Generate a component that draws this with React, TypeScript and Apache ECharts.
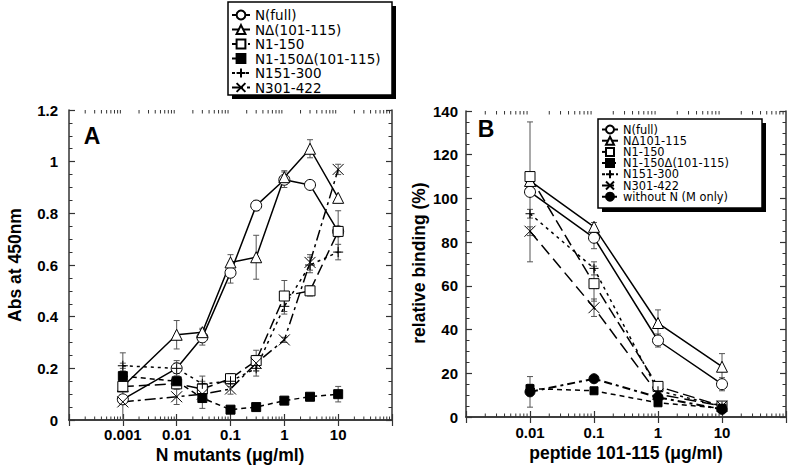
import React, { useEffect, useRef } from "react";
import * as echarts from "echarts";

// ---------- Panel A data ----------
const xA = [0.001, 0.01, 0.03, 0.1, 0.3, 1, 3, 10];
const aNames = ["N(full)", "NΔ(101-115)", "N1-150", "N1-150Δ(101-115)", "N151-300", "N301-422"];
const aFull = [0.08, 0.2, 0.32, 0.57, 0.83, 0.93, 0.91, 0.73];
const aFullErr = [0.015, 0.02, 0.03, 0.04, 0.02, 0.03, 0, 0.02];
const aDel = [0.13, 0.33, 0.34, 0.61, 0.63, 0.94, 1.05, 0.86];
const aDelErr = [0.13, 0.055, 0.015, 0.03, 0.085, 0.025, 0.035, 0];
const a150 = [0.13, 0.14, 0.12, 0.16, 0.23, 0.48, 0.5, 0.73];
const a150Err = [0.02, 0.02, 0.03, 0.02, 0.04, 0.06, 0.02, 0.08];
const a150Del = [0.17, 0.15, 0.085, 0.04, 0.05, 0.075, 0.09, 0.1];
const a150DelErr = [0.02, 0.02, 0.04, 0, 0, 0.01, 0.01, 0.03];
const a151 = [0.21, 0.2, 0.14, 0.15, 0.2, 0.44, 0.6, 0.65];
const a151Err = [0.01, 0.03, 0.03, 0.02, 0.03, 0.03, 0.03, 0.03];
const a301 = [0.07, 0.09, 0.1, 0.12, 0.22, 0.31, 0.61, 0.97];
const a301Err = [0.01, 0.03, 0.02, 0.02, 0.03, 0.01, 0.03, 0.02];

// ---------- Panel B data ----------
const xB = [0.01, 0.1, 1, 10];
const bNames = ["N(full)", "NΔ101-115", "N1-150", "N1-150Δ(101-115)", "N151-300", "N301-422", "without N (M only)"];
const bFull = [103, 82, 35, 15];
const bFullErr = [32, 5, 3, 3];
const bDel = [108, 87, 43, 23];
const bDelErr = [2, 2, 6, 6];
const b150 = [110, 61, 14, 5];
const b150Err = [2, 8, 2, 1];
const b150Del = [13, 12, 6.5, 4];
const b150DelErr = [2, 1, 1, 1];
const b151 = [93, 68, 12, 5];
const b151Err = [2, 3, 1, 1];
const b301 = [85, 50, 10.5, 5];
const b301Err = [2, 4, 1, 1];
const bNoN = [11.5, 17.5, 9, 3.5];
const bNoNErr = [7, 1, 1, 1];

// ---------- tick labels ----------
const xTickLabelsA: Record<number, string> = { [-3]: "0.001", [-2]: "0.01", [-1]: "0.1", 0: "1", 1: "10" };
const xTickLabelsB: Record<number, string> = { [-2]: "0.01", [-1]: "0.1", 0: "1", 1: "10" };
const decadesA = [0.0001, 0.001, 0.01, 0.1, 1, 10];
const decadesB = [0.001, 0.01, 0.1, 1, 10];
const minorMult = [2, 3, 4, 5, 6, 7, 8, 9];

const FONT = '"Liberation Sans", Arial, Helvetica, sans-serif';
const LFONT = '"DejaVu Sans", "Liberation Sans", Arial, sans-serif';
const AXC = "#333";

const PLUS = "path://M5,0L5,10M0,5L10,5";
const CROSS = "path://M0,0L10,10M10,0L0,10";

function pairs(xs: number[], ys: number[]) {
  return xs.map((x, i) => [x, ys[i]]);
}

function lineSeries(
  name: string,
  xs: number[],
  ys: number[],
  symbol: string,
  size: number,
  dash: any,
  axis: number,
  filled: boolean,
  width = 1.5
) {
  return {
    name,
    type: "line",
    xAxisIndex: axis,
    yAxisIndex: axis,
    data: pairs(xs, ys),
    symbol,
    symbolSize: size,
    showAllSymbol: true,
    z: 3,
    lineStyle: { color: "#000", width, type: dash },
    itemStyle: { color: filled ? "#000" : "#fff", borderColor: "#000", borderWidth: 1 },
    emphasis: { disabled: true },
  };
}

function errData(xs: number[], groups: [number[], number[]][]) {
  const out: number[][] = [];
  groups.forEach(([ys, es]) => {
    xs.forEach((x, i) => {
      if (es[i] > 0) out.push([x, ys[i], es[i]]);
    });
  });
  return out;
}

function errSeries(axis: number, data: number[][]) {
  return {
    type: "custom",
    name: "err" + axis,
    xAxisIndex: axis,
    yAxisIndex: axis,
    z: 2,
    silent: true,
    encode: { x: 0, y: 1 },
    data,
    renderItem: (params: any, api: any) => {
      const x = api.value(0);
      const y = api.value(1);
      const e = api.value(2);
      const t = api.coord([x, y + e]);
      const b = api.coord([x, Math.max(y - e, 0)]);
      const w = 3;
      const st = { stroke: "#555", lineWidth: 1 };
      return {
        type: "group",
        children: [
          { type: "line", shape: { x1: t[0], y1: t[1], x2: b[0], y2: b[1] }, style: st },
          { type: "line", shape: { x1: t[0] - w, y1: t[1], x2: t[0] + w, y2: t[1] }, style: st },
          { type: "line", shape: { x1: b[0] - w, y1: b[1], x2: b[0] + w, y2: b[1] }, style: st },
        ],
      };
    },
  };
}

function minorSeries(axis: number, decades: number[], ymin: number, ymax: number) {
  const data: number[][] = [];
  decades.forEach((d) => minorMult.forEach((m) => data.push([d * m, ymin])));
  return {
    type: "custom",
    name: "minor" + axis,
    xAxisIndex: axis,
    yAxisIndex: axis,
    silent: true,
    z: 1,
    encode: { x: 0, y: 1 },
    data,
    renderItem: (params: any, api: any) => {
      const v = api.value(0);
      const b = api.coord([v, ymin]);
      const t = api.coord([v, ymax]);
      const st = { stroke: AXC, lineWidth: 1 };
      const L = 3.5;
      return {
        type: "group",
        children: [
          { type: "line", shape: { x1: b[0], y1: b[1], x2: b[0], y2: b[1] - L }, style: st },
          { type: "line", shape: { x1: t[0], y1: t[1], x2: t[0], y2: t[1] + L }, style: st },
        ],
      };
    },
  };
}

function logX(grid: number, pos: string, min: number, max: number, labels: Record<number, string> | null, margin: number) {
  return {
    type: "log",
    logBase: 10,
    gridIndex: grid,
    position: pos,
    min,
    max,
    axisLine: { show: true, lineStyle: { color: AXC, width: 1.5 } },
    axisTick: { show: true, inside: true, length: 6, lineStyle: { color: AXC, width: 1.2 } },
    splitLine: { show: false },
    axisLabel: labels
      ? {
          show: true,
          margin,
          fontFamily: FONT,
          fontSize: 15,
          fontWeight: "bold",
          color: "#000",
          showMinLabel: true,
          showMaxLabel: true,
          formatter: (v: number) => {
            const e = Math.round(Math.log10(v));
            return labels[e] ?? "";
          },
        }
      : { show: false },
  };
}

function valY(grid: number, pos: string, max: number, interval: number, showLabels: boolean, margin: number) {
  return {
    type: "value",
    gridIndex: grid,
    position: pos,
    min: 0,
    max,
    interval,
    axisLine: { show: true, lineStyle: { color: AXC, width: 1.5 } },
    axisTick: { show: true, inside: true, length: 6, lineStyle: { color: AXC, width: 1.2 } },
    minorTick: { show: true, splitNumber: 4, length: 3.5, lineStyle: { color: AXC, width: 1 } },
    splitLine: { show: false },
    axisLabel: showLabels
      ? { show: true, margin, fontFamily: FONT, fontSize: 15, fontWeight: "bold", color: "#000" }
      : { show: false },
  };
}

function legendBox(x: number, y: number, w: number, h: number, off: number) {
  return [
    { type: "rect", z: 3, shape: { x: x + off, y: y + off, width: w, height: h }, style: { fill: "#000" } },
    {
      type: "rect",
      z: 3,
      shape: { x, y, width: w, height: h },
      style: { fill: "#fff", stroke: "#000", lineWidth: 1.5 },
    },
  ];
}

export default function App() {
  const ref = useRef<HTMLDivElement>(null);
  useEffect(() => {
    if (!ref.current) return;
    const chart = echarts.init(ref.current, undefined, { renderer: "svg" });
    const A = (n: string) => "A:" + n;
    const B = (n: string) => "B:" + n;

    const seriesA = [
      lineSeries(A(aNames[0]), xA, aFull, "circle", 11, "solid", 0, false),
      lineSeries(A(aNames[1]), xA, aDel, "triangle", 11, "solid", 0, false),
      lineSeries(A(aNames[2]), xA, a150, "rect", 10, [11, 5], 0, false),
      lineSeries(A(aNames[3]), xA, a150Del, "rect", 9, [5, 4], 0, true),
      lineSeries(A(aNames[4]), xA, a151, PLUS, 10, [3, 4], 0, true),
      lineSeries(A(aNames[5]), xA, a301, CROSS, 11, [11, 4, 3, 4], 0, true),
    ];
    const seriesB = [
      lineSeries(B(bNames[0]), xB, bFull, "circle", 11, "solid", 2, false),
      lineSeries(B(bNames[1]), xB, bDel, "triangle", 11, "solid", 2, false),
      lineSeries(B(bNames[2]), xB, b150, "rect", 10, [12, 5], 2, false),
      lineSeries(B(bNames[3]), xB, b150Del, "rect", 8, [5, 4], 2, true),
      lineSeries(B(bNames[4]), xB, b151, PLUS, 9, [3, 4], 2, true),
      lineSeries(B(bNames[5]), xB, b301, CROSS, 11, [12, 6], 2, true),
      lineSeries(B(bNames[6]), xB, bNoN, "circle", 10, [8, 4, 3, 4], 2, true, 2),
    ];

    const errA = errData(xA, [
      [aFull, aFullErr],
      [aDel, aDelErr],
      [a150, a150Err],
      [a150Del, a150DelErr],
      [a151, a151Err],
      [a301, a301Err],
    ]);
    const errB = errData(xB, [
      [bFull, bFullErr],
      [bDel, bDelErr],
      [b150, b150Err],
      [b150Del, b150DelErr],
      [b151, b151Err],
      [b301, b301Err],
      [bNoN, bNoNErr],
    ]);

    const option: any = {
      animation: false,
      backgroundColor: "#fff",
      textStyle: { fontFamily: FONT },
      grid: [
        { left: 69, top: 110, width: 323, height: 310, containLabel: false },
        { left: 466, top: 111, width: 320, height: 306, containLabel: false },
      ],
      xAxis: [
        logX(0, "bottom", 0.0001, 100, xTickLabelsA, 7),
        logX(0, "top", 0.0001, 100, null, 0),
        logX(1, "bottom", 0.001, 100, xTickLabelsB, 8),
        logX(1, "top", 0.001, 100, null, 0),
      ],
      yAxis: [
        valY(0, "left", 1.2, 0.2, true, 11),
        valY(0, "right", 1.2, 0.2, false, 0),
        valY(1, "left", 140, 20, true, 8),
        valY(1, "right", 140, 20, false, 0),
      ],
      legend: [
        {
          data: aNames.map(A),
          formatter: (n: string) => n.slice(2),
          orient: "vertical",
          left: 231,
          top: 8,
          itemWidth: 18,
          itemHeight: 11,
          itemGap: 0.5,
          padding: 0,
          selectedMode: false,
          textStyle: { fontFamily: LFONT, fontSize: 13.5, color: "#000" },
        },
        {
          data: bNames.map(B),
          formatter: (n: string) => n.slice(2),
          orient: "vertical",
          left: 601,
          top: 124,
          itemWidth: 16,
          itemHeight: 10,
          itemGap: 0.2,
          padding: 0,
          selectedMode: false,
          textStyle: { fontFamily: LFONT, fontSize: 11.4, color: "#000" },
        },
      ],
      graphic: [
        ...legendBox(228, 2, 164, 93, 4),
        ...legendBox(598, 119, 164, 89, 4),
        {
          type: "text",
          x: 92,
          y: 136,
          style: { text: "A", font: `bold 23px ${FONT}`, fill: "#000", textAlign: "center", textVerticalAlign: "middle" },
        },
        {
          type: "text",
          x: 486,
          y: 129,
          style: { text: "B", font: `bold 23px ${FONT}`, fill: "#000", textAlign: "center", textVerticalAlign: "middle" },
        },
        {
          type: "text",
          x: 15,
          y: 265,
          rotation: Math.PI / 2,
          style: { text: "Abs at 450nm", font: `bold 17.5px ${FONT}`, fill: "#000", textAlign: "center", textVerticalAlign: "middle" },
        },
        {
          type: "text",
          x: 230,
          y: 455,
          style: { text: "N mutants (μg/ml)", font: `bold 17.5px ${FONT}`, fill: "#000", textAlign: "center", textVerticalAlign: "middle" },
        },
        {
          type: "text",
          x: 419,
          y: 263,
          rotation: Math.PI / 2,
          style: { text: "relative binding (%)", font: `bold 17.5px ${FONT}`, fill: "#000", textAlign: "center", textVerticalAlign: "middle" },
        },
        {
          type: "text",
          x: 626,
          y: 453,
          style: { text: "peptide 101-115 (μg/ml)", font: `bold 17.5px ${FONT}`, fill: "#000", textAlign: "center", textVerticalAlign: "middle" },
        },
      ],
      series: [
        minorSeries(0, decadesA, 0, 1.2),
        minorSeries(2, decadesB, 0, 140),
        errSeries(0, errA),
        errSeries(2, errB),
        ...seriesA,
        ...seriesB,
      ],
    };
    chart.setOption(option);
    return () => chart.dispose();
  }, []);

  return (
    <div
      ref={ref}
      style={{ position: "absolute", left: 0, top: 0, width: 789, height: 469, background: "#fff" }}
    />
  );
}
